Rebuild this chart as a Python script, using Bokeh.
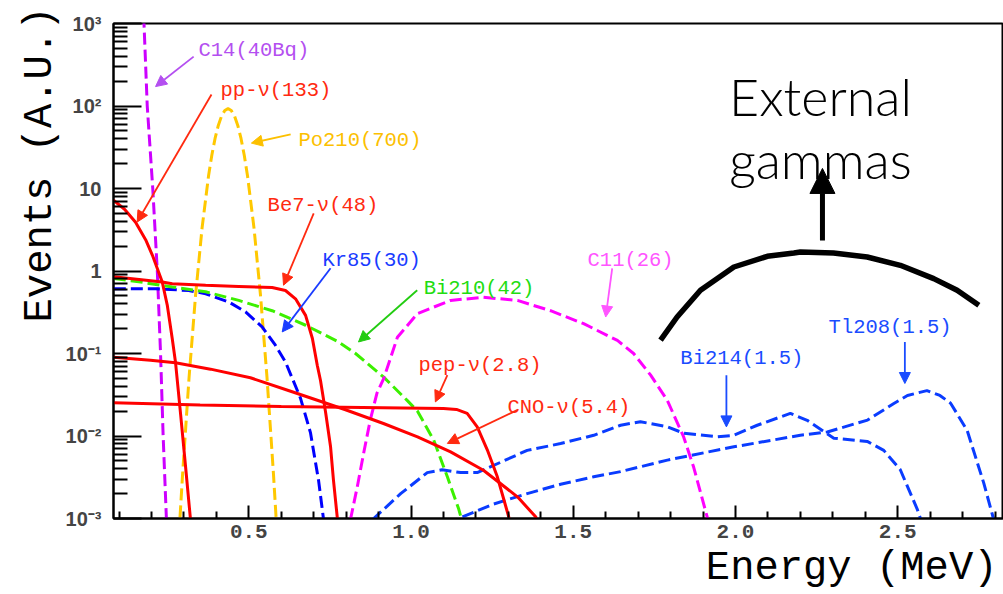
from bokeh.plotting import figure
from bokeh.models import FixedTicker, PrintfTickFormatter, Arrow, NormalHead, Title
from bokeh.core.properties import value
from bokeh.embed import file_html
from bokeh.resources import INLINE

# ---------------- data ----------------
c14_x = [0.172, 0.177, 0.187, 0.204, 0.218, 0.228, 0.236, 0.246, 0.250]
c14_y = [2000, 1000, 100, 10, 1.0, 0.1, 0.01, 0.001, 0.0005]

pp_x = [0.083, 0.117, 0.151, 0.182, 0.203, 0.233, 0.249, 0.264, 0.274, 0.290, 0.305, 0.320, 0.325]
pp_y = [7.2, 5.6, 3.9, 2.4, 1.55, 0.74, 0.38, 0.152, 0.079, 0.018, 0.0043, 0.001, 0.0006]

po210_x = [0.276, 0.286, 0.296, 0.316, 0.336, 0.356, 0.376, 0.386, 0.396, 0.406, 0.416,
           0.426, 0.436, 0.446, 0.456, 0.466, 0.476, 0.486, 0.496, 0.516, 0.536,
           0.556, 0.576, 0.586, 0.596]
po210_y = [0.000155, 0.00077, 0.00347, 0.0519, 0.512, 3.33, 14.3, 25.3, 40.4, 58.2, 75.5,
           88.2, 92.9, 88.2, 75.5, 58.2, 40.4, 25.3, 14.3, 3.33, 0.512,
           0.0519, 0.00347, 0.00077, 0.000155]

be7_x = [0.084, 0.233, 0.264, 0.367, 0.469, 0.572, 0.613, 0.644, 0.675, 0.696, 0.711,
         0.721, 0.737, 0.752, 0.761, 0.773, 0.778]
be7_y = [0.85, 0.736, 0.70, 0.67, 0.65, 0.63, 0.58, 0.46, 0.29, 0.152, 0.072,
         0.047, 0.019, 0.0074, 0.0029, 0.001, 0.0006]

kr85_x = [0.084, 0.213, 0.315, 0.367, 0.439, 0.490, 0.541, 0.582, 0.613, 0.659, 0.690,
          0.715, 0.730, 0.735]
kr85_y = [0.61, 0.61, 0.58, 0.53, 0.42, 0.32, 0.21, 0.126, 0.079, 0.029, 0.011,
          0.0029, 0.001, 0.0006]

bi210_x = [0.084, 0.161, 0.264, 0.367, 0.469, 0.572, 0.675, 0.777, 0.829, 0.915, 0.988,
           1.020, 1.070, 1.112, 1.147, 1.155, 1.160]
bi210_y = [0.81, 0.74, 0.64, 0.56, 0.44, 0.33, 0.22, 0.138, 0.10, 0.052, 0.027,
           0.020, 0.0089, 0.0032, 0.0013, 0.001, 0.0007]

pep_x = [0.083, 0.350, 0.600, 0.850, 1.100, 1.140, 1.173, 1.204, 1.235, 1.266, 1.286, 1.301, 1.310]
pep_y = [0.0253, 0.0238, 0.0228, 0.0222, 0.0215, 0.0210, 0.0188, 0.0129, 0.0068, 0.0032, 0.0017, 0.00105, 0.0006]

cno_x = [0.083, 0.197, 0.274, 0.382, 0.505, 0.629, 0.798, 0.915, 1.020, 1.122, 1.223, 1.328, 1.384, 1.414]
cno_y = [0.0902, 0.0830, 0.0774, 0.0646, 0.0508, 0.0349, 0.0208, 0.01417, 0.00976, 0.00642, 0.00385,
         0.00183, 0.00105, 0.0006]

c11_x = [0.805, 0.814, 0.835, 0.855, 0.875, 0.895, 0.916, 0.958, 1.020, 1.122, 1.223, 1.328,
         1.430, 1.532, 1.636, 1.686, 1.738, 1.790, 1.840, 1.871, 1.914, 1.925]
c11_y = [0.0006, 0.001, 0.0025, 0.0065, 0.016, 0.033, 0.05, 0.157, 0.305, 0.44, 0.48, 0.44,
         0.33, 0.23, 0.144, 0.10, 0.055, 0.027, 0.0098, 0.0042, 0.001, 0.0006]

bi214_x = [0.870, 0.885, 0.968, 1.050, 1.096, 1.153, 1.204, 1.276, 1.358, 1.461, 1.563, 1.646,
           1.707, 1.790, 1.841, 1.944, 1.995, 2.067, 2.169, 2.221, 2.303, 2.406, 2.457, 2.508,
           2.560, 2.570, 2.580]
bi214_y = [0.0006, 0.001, 0.002, 0.0036, 0.0039, 0.0036, 0.0036, 0.0048, 0.0067, 0.0081, 0.0102, 0.0135,
           0.0149, 0.0129, 0.0108, 0.0098, 0.0102, 0.0135, 0.0188, 0.0155, 0.0094, 0.0086, 0.0067, 0.0039,
           0.0013, 0.001, 0.0007]

tl208_x = [1.140, 1.147, 1.255, 1.358, 1.461, 1.563, 1.646, 1.790, 1.995, 2.200, 2.283, 2.407,
           2.488, 2.530, 2.590, 2.630, 2.663, 2.714, 2.765, 2.795, 2.800]
tl208_y = [0.0007, 0.001, 0.0015, 0.002, 0.0026, 0.0032, 0.0037, 0.0051, 0.0074, 0.0102, 0.0112, 0.0156,
           0.0248, 0.031, 0.0355, 0.031, 0.025, 0.0117, 0.0027, 0.001, 0.0008]

gamma_x = [1.769, 1.820, 1.892, 1.995, 2.098, 2.180, 2.200, 2.302, 2.406, 2.508, 2.611, 2.683, 2.750]
gamma_y = [0.145, 0.277, 0.584, 1.118, 1.507, 1.651, 1.699, 1.651, 1.477, 1.172, 0.809, 0.584, 0.384]

# labels: text, left x, baseline y, colour
label_text = ["C14(40Bq)", "pp-ν(133)", "Po210(700)", "Be7-ν(48)", "Kr85(30)", "Bi210(42)",
              "C11(26)", "pep-ν(2.8)", "CNO-ν(5.4)", "Bi214(1.5)", "Tl208(1.5)"]
label_x = [0.345, 0.413, 0.653, 0.558, 0.727, 1.039, 1.544, 1.023, 1.297, 1.830, 2.287]
label_y = [470, 154, 38.2, 6.24, 1.35, 0.617, 1.35, 0.0722, 0.0224, 0.0877, 0.208]
label_color = ["#b44ff0", "#ff2a10", "#fcc000", "#ff2a10", "#1a3cff", "#22dd11",
               "#ff55ff", "#ff2a10", "#ff2a10", "#1a4cff", "#1a4cff"]

# pointer arrows: tail (x0,y0) -> head (x1,y1)
arrow_x0 = [0.330, 0.385, 0.629, 0.700, 0.752, 1.019, 1.620, 1.112, 1.327, 1.972, 2.522]
arrow_y0 = [397, 138, 45.2, 4.99, 1.078, 0.584, 1.078, 0.0546, 0.0206, 0.0546, 0.138]
arrow_x1 = [0.2126, 0.156, 0.508, 0.607, 0.603, 0.838, 1.600, 1.075, 1.112, 1.972, 2.522]
arrow_y1 = [172, 3.92, 35.5, 0.673, 0.1827, 0.138, 0.277, 0.0259, 0.00813, 0.0129, 0.0433]
arrow_color = ["#b44ff0", "#ff2a10", "#fcc000", "#ff2a10", "#1a3cff", "#22cc11",
               "#ff55ff", "#ff2a10", "#ff2a10", "#1a4cff", "#1a4cff"]

x_ticks = [0.5, 1.0, 1.5, 2.0, 2.5]
x_minor = [0.1, 0.2, 0.3, 0.4, 0.6, 0.7, 0.8, 0.9, 1.1, 1.2, 1.3, 1.4, 1.6, 1.7, 1.8, 1.9,
           2.1, 2.2, 2.3, 2.4, 2.6, 2.7, 2.8]
y_ticks = [0.001, 0.01, 0.1, 1, 10, 100, 1000]
y_tick_labels = ["10⁻³", "10⁻²", "10⁻¹", "1", "10", "10²", "10³"]
y_minor = [m * d for d in [0.001, 0.01, 0.1, 1, 10, 100] for m in range(2, 10)]

x_title = "Energy (MeV)"
y_title = "Events (A.U.)"

# ---------------- figure ----------------
p = figure(width=1003, height=594, x_range=(0.083, 2.826), y_range=(0.001, 1000),
           y_axis_type="log", output_backend="svg", toolbar_location=None,
           min_border_left=113, min_border_right=0, min_border_top=23, min_border_bottom=76)
p.xgrid.visible = False
p.ygrid.visible = False
p.outline_line_color = "black"
p.outline_line_width = 2
p.background_fill_color = "white"
p.border_fill_color = "white"

xa = p.xaxis[0]
xa.ticker = FixedTicker(ticks=x_ticks, minor_ticks=x_minor)
xa.formatter = PrintfTickFormatter(format="%.1f")
xa.major_tick_in = 13
xa.major_tick_out = 0
xa.minor_tick_in = 7
xa.minor_tick_out = 0
xa.axis_line_width = 2
xa.major_tick_line_width = 2
xa.minor_tick_line_width = 2
xa.major_label_text_font = "Liberation Mono"
xa.major_label_text_font_style = "bold"
xa.major_label_text_font_size = "21px"
xa.major_label_standoff = 6

ya = p.yaxis[0]
ya.ticker = FixedTicker(ticks=y_ticks, minor_ticks=y_minor)
ya.major_label_overrides = {t: s for t, s in zip(y_ticks, y_tick_labels)}
ya.major_tick_in = 28
ya.major_tick_out = 0
ya.minor_tick_in = 14
ya.minor_tick_out = 0
ya.axis_line_width = 2
ya.major_tick_line_width = 2
ya.minor_tick_line_width = 2
ya.major_label_text_font = "Liberation Sans"
ya.major_label_text_font_style = "bold"
ya.major_label_text_font_size = "20px"
ya.major_label_standoff = 12

# axis titles as side titles (right / top aligned like the original)
p.add_layout(Title(text=x_title, align="right", text_font="Liberation Mono",
                   text_font_size="40.5px", text_font_style="normal", text_color="black",
                   standoff=5, offset=6), "below")
p.add_layout(Title(text=y_title, align="right", text_font="Liberation Mono",
                   text_font_size="40.5px", text_font_style="normal", text_color="black",
                   standoff=0, offset=-17), "left")

# ---------------- curves ----------------
dash = "12 5"
p.line(c14_x, c14_y, line_color="#cc00ff", line_width=3, line_dash=dash)
p.line(po210_x, po210_y, line_color="#ffc800", line_width=3, line_dash=dash)
p.line(kr85_x, kr85_y, line_color="#0000ff", line_width=3, line_dash=dash)
p.line(bi210_x, bi210_y, line_color="#3cf000", line_width=3, line_dash=dash)
p.line(c11_x, c11_y, line_color="#ff00ff", line_width=3, line_dash=dash)
p.line(bi214_x, bi214_y, line_color="#0a3cff", line_width=3, line_dash=dash)
p.line(tl208_x, tl208_y, line_color="#0a3cff", line_width=3, line_dash=dash)
p.line(pp_x, pp_y, line_color="#ff0000", line_width=3)
p.line(be7_x, be7_y, line_color="#ff0000", line_width=3)
p.line(pep_x, pep_y, line_color="#ff0000", line_width=3)
p.line(cno_x, cno_y, line_color="#ff0000", line_width=3)

# external gammas arc
p.line(gamma_x, gamma_y, line_color="black", line_width=5.5)
p.add_layout(Arrow(end=NormalHead(size=25, fill_color="black", line_color="black"),
                   x_start=2.268, y_start=2.35, x_end=2.268, y_end=17.5,
                   line_color="black", line_width=5))
p.text(x=[2.262, 2.262], y=[134, 23.1], text=["External", "gammas"],
       text_font=value("Lato Light, Lato"), text_font_size="52px",
       text_align="center", text_baseline="alphabetic", text_color="black")

# labels and pointer arrows
p.text(x=label_x, y=label_y, text=label_text, text_color=label_color,
       text_font=value("Liberation Mono"), text_font_size="20.5px",
       text_align="left", text_baseline="alphabetic")
for x0, y0, x1, y1, c in zip(arrow_x0, arrow_y0, arrow_x1, arrow_y1, arrow_color):
    p.add_layout(Arrow(end=NormalHead(size=11, fill_color=c, line_color=c, line_width=1),
                       x_start=x0, y_start=y0, x_end=x1, y_end=y1,
                       line_color=c, line_width=1.8))

open("out.html", "w").write(file_html(p, INLINE))
